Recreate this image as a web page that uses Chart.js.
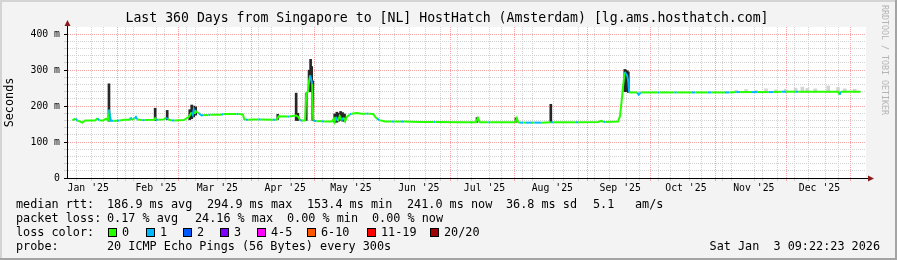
<!DOCTYPE html>
<html>
<head>
<meta charset="utf-8">
<script src="https://cdn.jsdelivr.net/npm/chart.js@4.4.1/dist/chart.umd.min.js"></script>
<style>
  html, body { margin: 0; padding: 0; background: #f3f3f3; }
  canvas { display: block; }
</style>
</head>
<body>
<canvas id="ping" width="897" height="260"></canvas>
<script>
// x values are days since the start of the window (Jan 8 2025 09:22)
const titleText = "Last 360 Days from Singapore to [NL] HostHatch (Amsterdam) [lg.ams.hosthatch.com]";
const monthLabels = ["Jan '25", "Feb '25", "Mar '25", "Apr '25", "May '25", "Jun '25",
  "Jul '25", "Aug '25", "Sep '25", "Oct '25", "Nov '25", "Dec '25"];
const monthStartDays = [-7.39, 23.61, 51.61, 82.61, 112.61, 143.61, 173.61,
  204.61, 235.61, 265.61, 296.61, 326.61, 357.61];

// median rtt (ms) and loss class per sample
const rttDays = [
  0, 1.4, 2.2, 3.6, 4.5, 5.9, 10.4, 11.5, 12.3, 14.0,
  15.4, 16.3, 16.7, 17.6, 18.6, 20.3, 21.5, 23.9, 26.1, 26.6,
  27.2, 28.4, 29.0, 29.6, 32.0, 33.0, 37.4, 37.8, 38.3, 39.3,
  41.9, 42.8, 43.6, 45.4, 46.6, 50.9, 53.2, 54.5, 55.0, 55.4,
  55.9, 56.3, 57.7, 59.0, 60.0, 62.2, 63.0, 66.7, 68.0, 69.0,
  71.2, 75.0, 75.8, 77.9, 78.4, 79.3, 80.3, 82.5, 85.0, 86.0,
  91.5, 92.5, 93.3, 94.2, 98.2, 99.0, 102.2, 103.2, 104.1, 105.0,
  106.3, 106.8, 107.6, 108.1, 108.6, 109.0, 109.5, 110.0, 111.5, 114.0,
  115.0, 118.5, 119.4, 119.8, 120.3, 121.2, 122.1, 123.0, 123.9, 124.6,
  125.3, 126.6, 127.5, 129.8, 132.0, 134.3, 135.2, 137.4, 138.3, 139.2,
  140.2, 142.8, 146.0, 147.0, 150.0, 151.5, 159.0, 165.0, 165.8, 177.1,
  184.3, 185.2, 186.1, 190.0, 190.8, 202.3, 203.0, 203.6, 204.1, 206.0,
  207.0, 210.0, 211.0, 214.0, 218.5, 219.5, 230.0, 231.0, 240.2, 241.5,
  242.5, 243.3, 249.2, 250.1, 251.0, 251.4, 252.3, 252.8, 253.4, 253.9,
  254.3, 258.0, 258.6, 259.6, 267.2, 268.2, 275.0, 276.0, 283.0, 284.5,
  290.0, 292.0, 298.0, 300.0, 303.2, 305.0, 310.0, 313.0, 318.0, 320.0,
  324.0, 326.0, 330.3, 331.5, 340.0, 349.8, 350.4, 351.0, 360.0
];
const rttValues = [
  160, 165, 160, 157, 154, 160, 160, 166, 160, 160,
  165, 160, 190, 159, 159, 159, 160, 162, 162, 168,
  162, 166, 170, 163, 161, 161, 162, 166, 162, 162,
  163, 168, 163, 160, 160, 161, 170, 183, 176, 190,
  178, 186, 180, 174, 175, 175, 176, 176, 176, 178,
  178, 178, 178, 177, 164, 162, 162, 163, 163, 163,
  162, 162, 162, 172, 171, 171, 174, 170, 160, 160,
  160, 236, 240, 270, 285, 275, 262, 160, 158, 158,
  157, 157, 165, 157, 170, 158, 172, 160, 168, 158,
  170, 176, 179, 181, 179, 179, 179, 178, 170, 165,
  161, 157, 157, 157, 157, 157, 156, 156, 156, 155,
  155, 167, 155, 155, 155, 155, 166, 155, 154, 154,
  154, 154, 154, 154, 155, 155, 155, 155, 156, 159,
  156, 156, 157, 172, 222, 249, 295, 290, 285, 268,
  238, 238, 232, 238, 238, 238, 238, 238, 238, 238,
  238, 238, 238, 238, 239, 239, 239, 239, 239, 239,
  240, 240, 240, 240, 240, 240, 232, 240, 240
];
const rttLoss = [
  0, 1, 0, 0, 0, 0, 0, 1, 0, 0,
  0, 0, 1, 1, 0, 1, 0, 0, 0, 1,
  0, 1, 1, 0, 1, 0, 0, 0, 1, 0,
  0, 1, 0, 1, 0, 0, 0, 1, 1, 1,
  0, 0, 1, 1, 0, 1, 0, 0, 1, 0,
  0, 1, 0, 0, 0, 1, 0, 0, 1, 0,
  1, 0, 0, 0, 1, 0, 0, 0, 1, 0,
  0, 0, 0, 0, 1, 1, 0, 1, 0, 1,
  0, 0, 0, 0, 1, 0, 0, 1, 0, 0,
  0, 1, 0, 0, 0, 1, 0, 0, 0, 1,
  0, 0, 1, 0, 1, 0, 0, 1, 0, 0,
  0, 0, 0, 1, 0, 0, 0, 0, 1, 0,
  1, 0, 1, 0, 1, 0, 1, 0, 0, 0,
  1, 0, 0, 0, 0, 0, 1, 1, 1, 1,
  0, 1, 1, 0, 1, 0, 1, 0, 1, 0,
  1, 0, 1, 0, 1, 0, 1, 0, 1, 0,
  1, 0, 1, 0, 0, 0, 1, 0, 0
];

// dark smoke spikes (min..max of the pings)
const smokeDays = [16.7, 37.8, 43.3, 53.6, 54.5, 55.4, 56.3, 93.8, 102.2, 103.0,
  106.8, 108.1, 108.8, 109.3, 109.8, 119.8, 120.8, 121.6, 122.5, 123.4,
  124.3, 184.8, 202.6, 218.5, 252.3, 252.8, 253.4, 253.9];
const smokeLow = [158, 160, 162, 162, 165, 170, 175, 163, 160, 160,
  160, 240, 240, 250, 160, 155, 155, 158, 160, 158,
  158, 155, 155, 155, 240, 245, 240, 238];
const smokeHigh = [262, 194, 188, 190, 203, 200, 198, 177, 236, 180,
  236, 300, 330, 310, 270, 178, 183, 180, 185, 182,
  178, 168, 167, 205, 302, 300, 298, 295];

// faint smoke, Nov-Dec
const lightSmokeDays = [303.2, 307.7, 312.2, 316.8, 321.3, 325.8, 330.3, 333.4, 335.7, 339.3,
  345.2, 349.7, 352.8, 357.3];
const lightSmokeLow = [238, 238, 238, 238, 238, 238, 238, 238, 238, 238, 238, 238, 238, 238];
const lightSmokeHigh = [244, 246, 244, 248, 245, 247, 250, 253, 249, 248, 256, 252, 248, 247];

const lossLabels = ["0", "1", "2", "3", "4-5", "6-10", "11-19", "20/20"];
const lossColors = ["#26ff00", "#00b8ff", "#0059ff", "#7e00ff", "#ff00ff", "#ff5500", "#ff0000", "#a10000"];

const MONO = '"DejaVu Sans Mono", monospace';
const GRID_MINOR = "#d2d2d2";
const GRID_MAJOR = "#f4a4a4";

// x ticks: weekly (Sundays) minor grid, month-start major grid, mid-month labels
const xTicks = [];
for (let d = 3.61; d < 360; d += 7) {
  if (!monthStartDays.some(m => Math.abs(m - d) < 0.5)) xTicks.push({ v: d, kind: "minor" });
}
monthStartDays.forEach(m => { if (m > 0 && m < 360) xTicks.push({ v: m, kind: "major" }); });
monthLabels.forEach((l, i) => {
  const v = monthStartDays[i] + 14.6;
  if (v > 0 && v < 360) xTicks.push({ v: v, kind: "label", label: l });
});
xTicks.sort((a, b) => a.v - b.v);

const yTicks = [];
for (let v = 0; v <= 400; v += 20) yTicks.push(v);

const xGridColor = kind => kind === "major" ? GRID_MAJOR : kind === "minor" ? GRID_MINOR : "rgba(0,0,0,0)";
const yGridColor = v => v === 0 ? "rgba(0,0,0,0)" : v % 100 === 0 ? GRID_MAJOR : GRID_MINOR;

const rrdFrame = {
  id: "rrdFrame",
  beforeDraw(chart) {
    const { ctx, chartArea: a } = chart;
    ctx.save();
    ctx.fillStyle = "#f3f3f3";
    ctx.fillRect(0, 0, chart.width, chart.height);
    ctx.fillStyle = "#ffffff";
    ctx.fillRect(a.left, a.top, a.right - a.left, a.bottom - a.top);
    ctx.restore();
  },
  afterDraw(chart) {
    const { ctx, chartArea: a } = chart;
    const W = chart.width, H = chart.height;
    ctx.save();

    // 3d frame
    ctx.fillStyle = "#d4d4d4";
    ctx.fillRect(0, 0, W, 2);
    ctx.fillRect(0, 0, 2, H);
    ctx.fillStyle = "#a4a4a4";
    ctx.fillRect(0, H - 2, W, 2);
    ctx.fillRect(W - 2, 0, 2, H);

    // axis extensions + arrows
    ctx.strokeStyle = "#000";
    ctx.lineWidth = 1;
    ctx.beginPath();
    ctx.moveTo(a.left + 0.5, a.top);
    ctx.lineTo(a.left + 0.5, a.top - 4);
    ctx.moveTo(a.right, a.bottom + 0.5);
    ctx.lineTo(a.right + 4, a.bottom + 0.5);
    ctx.stroke();
    ctx.fillStyle = "#8b1a1a";
    ctx.beginPath();
    ctx.moveTo(a.left + 0.5, a.top - 7);
    ctx.lineTo(a.left - 2.5, a.top - 1);
    ctx.lineTo(a.left + 3.5, a.top - 1);
    ctx.closePath();
    ctx.fill();
    ctx.beginPath();
    ctx.moveTo(a.right + 8, a.bottom + 0.5);
    ctx.lineTo(a.right + 2, a.bottom - 2.5);
    ctx.lineTo(a.right + 2, a.bottom + 3.5);
    ctx.closePath();
    ctx.fill();

    // title
    ctx.fillStyle = "#000";
    ctx.textBaseline = "middle";
    ctx.textAlign = "center";
    ctx.font = "13.2px " + MONO;
    ctx.fillText(titleText, 447, 19);

    // watermark
    ctx.save();
    ctx.translate(884, 5);
    ctx.rotate(Math.PI / 2);
    ctx.textAlign = "left";
    ctx.fillStyle = "#b4b4b4";
    ctx.font = "8.3px " + MONO;
    ctx.fillText("RRDTOOL / TOBI OETIKER", 0, 0);
    ctx.restore();

    // legend
    ctx.textAlign = "left";
    ctx.font = "11.8px " + MONO;
    const put = (s, x, y) => ctx.fillText(s, x, y);
    put("median rtt:", 16, 204.5);
    put("186.9 ms avg", 107, 204.5);
    put("294.9 ms max", 207, 204.5);
    put("153.4 ms min", 307, 204.5);
    put("241.0 ms now", 407, 204.5);
    put("36.8 ms sd", 506, 204.5);
    put("5.1", 593, 204.5);
    put("am/s", 635, 204.5);

    put("packet loss:", 16, 218.5);
    put("0.17 % avg", 107, 218.5);
    put("24.16 % max", 195, 218.5);
    put("0.00 % min", 287, 218.5);
    put("0.00 % now", 372, 218.5);

    put("loss color:", 16, 232.5);
    const boxX = [108, 146, 183, 220, 257, 307, 367, 430];
    lossLabels.forEach((l, i) => {
      ctx.fillStyle = lossColors[i];
      ctx.fillRect(boxX[i], 228, 9, 9);
      ctx.strokeStyle = "#000";
      ctx.strokeRect(boxX[i] + 0.5, 228.5, 8, 8);
      ctx.fillStyle = "#000";
      put(l, boxX[i] + 14, 232.5);
    });

    put("probe:", 16, 246.5);
    put("20 ICMP Echo Pings (56 Bytes) every 300s", 107, 246.5);
    ctx.textAlign = "right";
    put("Sat Jan  3 09:22:23 2026", 880, 246.5);
    ctx.restore();
  }
};

new Chart(document.getElementById("ping"), {
  data: {
    datasets: [
      {
        type: "line",
        label: "median rtt",
        data: rttDays.map((d, i) => ({ x: d, y: rttValues[i] })),
        borderWidth: 2,
        pointRadius: 0,
        tension: 0,
        borderColor: lossColors[0],
        segment: {
          borderColor: c => lossColors[rttLoss[c.p0DataIndex]]
        },
        order: 0
      },
      {
        type: "bar",
        label: "smoke",
        data: smokeDays.map((d, i) => ({ x: d, y: [smokeLow[i], smokeHigh[i]] })),
        backgroundColor: "#262626",
        barThickness: 2,
        grouped: false,
        order: 1
      },
      {
        type: "bar",
        label: "light smoke",
        data: lightSmokeDays.map((d, i) => ({ x: d, y: [lightSmokeLow[i], lightSmokeHigh[i]] })),
        backgroundColor: "#d4d4d4",
        barThickness: 3,
        grouped: false,
        order: 2
      }
    ]
  },
  options: {
    responsive: false,
    devicePixelRatio: 1,
    animation: false,
    events: [],
    layout: { padding: { left: 0, right: 31, top: 27, bottom: 0 } },
    plugins: {
      legend: { display: false },
      title: { display: false },
      tooltip: { enabled: false }
    },
    scales: {
      x: {
        type: "linear",
        min: 0,
        max: 360,
        afterBuildTicks: s => { s.ticks = xTicks.map(t => ({ value: t.v })); },
        afterFit: s => { s.height = 82; },
        ticks: {
          autoSkip: false,
          maxRotation: 0,
          padding: 2,
          color: "#000",
          font: { family: MONO, size: 9.8 },
          callback: (v, i) => xTicks[i].kind === "label" ? xTicks[i].label : ""
        },
        grid: {
          color: c => xGridColor(xTicks[c.index] ? xTicks[c.index].kind : "label"),
          tickColor: c => xGridColor(xTicks[c.index] ? xTicks[c.index].kind : "label"),
          tickLength: 3,
          lineWidth: 1
        },
        border: { color: "#000", dash: [1, 1] }
      },
      y: {
        type: "linear",
        min: 0,
        max: 420,
        afterBuildTicks: s => { s.ticks = yTicks.map(v => ({ value: v })); },
        afterFit: s => { s.width = 67; },
        ticks: {
          autoSkip: false,
          padding: 4,
          color: "#000",
          font: { family: MONO, size: 9.8 },
          callback: v => v % 100 === 0 ? (v === 0 ? "0" : v + " m") : ""
        },
        grid: {
          color: c => yGridColor(c.tick.value),
          tickColor: c => c.tick.value % 100 === 0 ? "#000" : GRID_MINOR,
          tickLength: 3,
          lineWidth: 1
        },
        border: { color: "#000", dash: [1, 1] },
        title: {
          display: true,
          text: "Seconds",
          color: "#000",
          font: { family: MONO, size: 11.8 },
          padding: { top: 3, bottom: 0 }
        }
      }
    }
  },
  plugins: [rrdFrame]
});
</script>
</body>
</html>
